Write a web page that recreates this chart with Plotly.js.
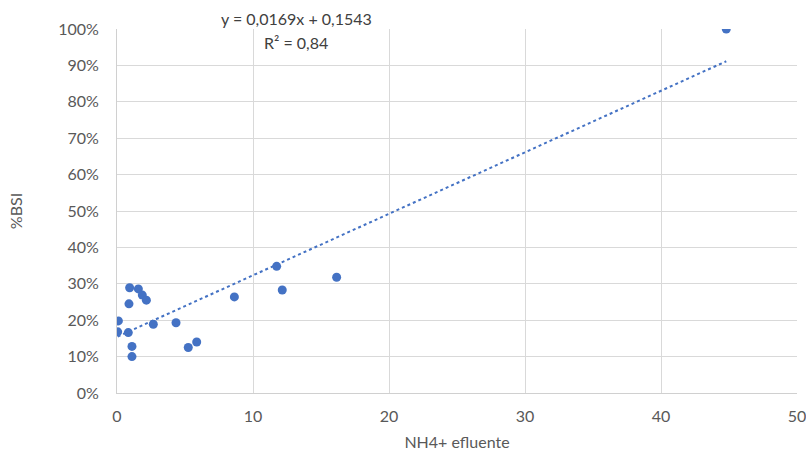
<!DOCTYPE html>
<html>
<head>
<meta charset="utf-8">
<script src="https://cdn.plot.ly/plotly-3.0.1.min.js"></script>
<style>html,body{margin:0;padding:0;background:#fff;}#chart{width:806px;height:451px;}</style>
</head>
<body>
<div id="chart"></div>
<script>
// NH4+ efluente (x) and %BSI (y, as fraction)
const nh4 = [0.1, 0.05, 0.83, 0.88, 0.93, 1.57, 1.86, 2.16, 1.1, 1.1, 2.67, 4.34, 5.24, 5.86, 8.63, 11.74, 12.15, 16.15, 44.8];
const bsi = [0.198, 0.168, 0.166, 0.245, 0.289, 0.286, 0.269, 0.255, 0.128, 0.100, 0.189, 0.193, 0.125, 0.140, 0.264, 0.348, 0.283, 0.318, 1.00];
const slope = 0.0169;
const intercept = 0.1543;
const r2Label = "0,84";
const xTicks = [0, 10, 20, 30, 40, 50];
const yTicks = [0, 0.1, 0.2, 0.3, 0.4, 0.5, 0.6, 0.7, 0.8, 0.9, 1.0];

const xMin = Math.min(...nh4), xMax = Math.max(...nh4);
const trendX = [xMin, xMax];
const trendY = trendX.map(x => slope * x + intercept);

const fmt = v => v.toFixed(4).replace('.', ',');

const traces = [
  {x: trendX, y: trendY, mode: 'lines', type: 'scatter',
   line: {color: '#4472C4', width: 2, dash: 'dot'}, hoverinfo: 'skip'},
  {x: nh4, y: bsi, mode: 'markers', type: 'scatter',
   marker: {color: '#4472C4', size: 9}}
];

const font = {family: 'Lato, "Open Sans", sans-serif', color: '#595959', size: 16};

const layout = {
  width: 806, height: 451,
  margin: {l: 117, r: 9, t: 29, b: 58},
  paper_bgcolor: '#fff', plot_bgcolor: '#fff',
  showlegend: false,
  font: font,
  xaxis: {
    range: [0, 50], tickvals: xTicks, ticktext: xTicks.map(String),
    showgrid: true, gridcolor: '#d9d9d9', gridwidth: 1,
    showline: true, linecolor: '#d0d0d0', linewidth: 1, mirror: false,
    zeroline: false,
    ticks: 'outside', ticklen: 9, tickcolor: 'rgba(0,0,0,0)',
    ticklabeloverflow: 'allow',
    tickfont: {size: 16, color: '#595959'},
    title: {text: 'NH4+ efluente', font: {size: 16, color: '#595959'}, standoff: 12}
  },
  yaxis: {
    range: [0, 1], tickvals: yTicks, tickformat: '.0%',
    showgrid: true, gridcolor: '#d9d9d9', gridwidth: 1,
    showline: true, linecolor: '#d0d0d0', linewidth: 1,
    zeroline: false,
    ticks: 'outside', ticklen: 14, tickcolor: 'rgba(0,0,0,0)',
    tickfont: {size: 16, color: '#595959'},
    title: {text: '%BSI', font: {size: 16, color: '#595959'}, standoff: 31}
  },
  annotations: [
    {xref: 'paper', yref: 'paper', x: (296 - 117) / 680, y: (393 - 18) / 364,
     text: 'y = ' + fmt(slope) + 'x + ' + fmt(intercept), showarrow: false,
     font: {size: 16, color: '#404040'}, xanchor: 'center', yanchor: 'middle'},
    {xref: 'paper', yref: 'paper', x: (296 - 117) / 680, y: (393 - 43) / 364,
     text: 'R² = ' + r2Label, showarrow: false,
     font: {size: 16, color: '#404040'}, xanchor: 'center', yanchor: 'middle'}
  ]
};

Plotly.newPlot('chart', traces, layout, {displayModeBar: false, staticPlot: true});
</script>
</body>
</html>
